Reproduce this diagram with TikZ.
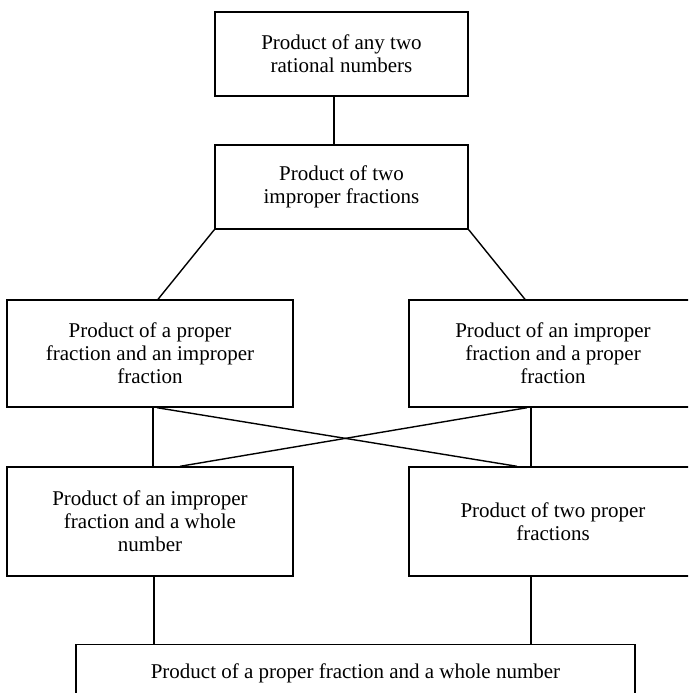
\documentclass[tikz,border=0pt]{standalone}
\usepackage{fontspec}
\setmainfont{Liberation Serif}
\begin{document}
\begin{tikzpicture}[x=1pt,y=1pt,
  box/.style={draw,line width=1.4pt,align=center,inner sep=0pt,
    font=\fontsize{21}{23}\selectfont},
  conn/.style={line width=1.4pt}]
\useasboundingbox (0,0) rectangle (688,-693);
\clip (0,0) rectangle (688,-693);
\node[box,minimum width=253pt,minimum height=84pt] (n1) at (341.5,-54) {Product of any two\\rational numbers};
\node[box,minimum width=253pt,minimum height=84pt] (n2) at (341.5,-187) {Product of two\\improper fractions};
\node[box,minimum width=286pt,minimum height=107pt] (n3L) at (150,-353.5) {Product of a proper\\fraction and an improper\\fraction};
\node[box,minimum width=288pt,minimum height=107pt] (n3R) at (553,-353.5) {Product of an improper\\fraction and a proper\\fraction};
\node[box,minimum width=286pt,minimum height=109pt] (n4L) at (150,-521.5) {Product of an improper\\fraction and a whole\\number};
\node[box,minimum width=288pt,minimum height=109pt] (n4R) at (553,-521.5) {Product of two proper\\fractions};
\node[box,minimum width=559pt,text height=34pt,text depth=70pt,anchor=north] (n5) at (355.5,-644) {Product of a proper fraction and a whole number};
\draw[conn] ([xshift=-7.5pt]n1.south) -- ([xshift=-7.5pt]n2.north);
\draw[conn] (n2.south west) -- ([xshift=8pt]n3L.north);
\draw[conn] (n2.south east) -- ([xshift=-28pt]n3R.north);
\draw[conn] ([xshift=3pt]n3L.south) -- ([xshift=3pt]n4L.north);
\draw[conn] ([xshift=-22pt]n3R.south) -- ([xshift=-22pt]n4R.north);
\draw[conn] ([xshift=7pt]n3L.south) -- ([xshift=-36pt]n4R.north);
\draw[conn] ([xshift=-26pt]n3R.south) -- ([xshift=30pt]n4L.north);
\draw[conn] ([xshift=4pt]n4L.south) -- ([xshift=4pt]n4L.south |- n5.north);
\draw[conn] ([xshift=-22pt]n4R.south) -- ([xshift=-22pt]n4R.south |- n5.north);
\end{tikzpicture}
\end{document}
